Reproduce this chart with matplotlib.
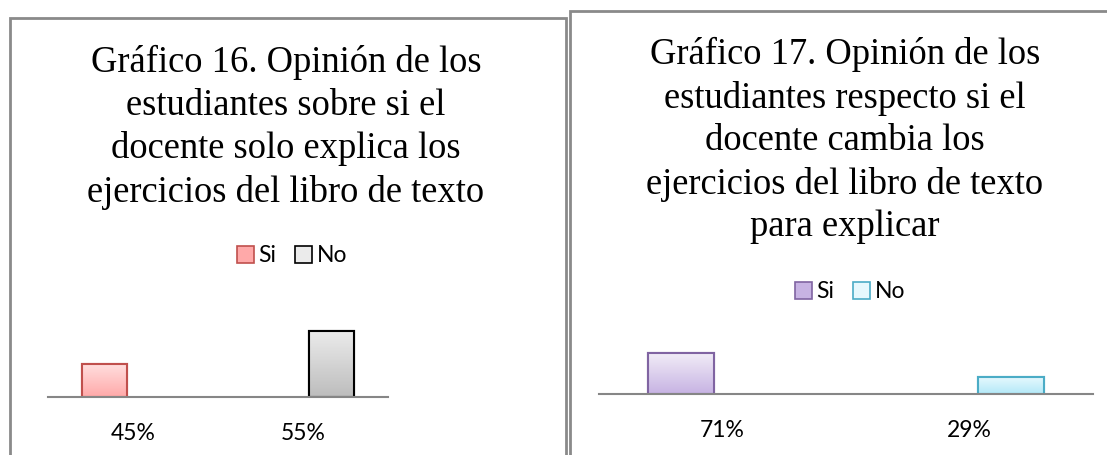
import numpy as np
import matplotlib
matplotlib.use("Agg")
import matplotlib.pyplot as plt
from matplotlib.colors import LinearSegmentedColormap
from matplotlib.patches import Rectangle

# ==========================
# DATA
# ==========================
title_16 = "Gráfico 16. Opinión de los\nestudiantes sobre si el\ndocente solo explica los\nejercicios del libro de texto"
title_17 = "Gráfico 17. Opinión de los\nestudiantes respecto si el\ndocente cambia los\nejercicios del libro de texto\npara explicar"

series = ["Si", "No"]
labels_16 = ["45%", "55%"]
values_16 = [45, 55]
labels_17 = ["71%", "29%"]
values_17 = [71, 29]

# ==========================
# STYLE
# ==========================
W, H = 1107, 455
SERIF = "Liberation Serif"
SANS = "Lato"

colors_16 = [("#c0504d", "#ffdede", "#ffa9a9"), ("#000000", "#ebebeb", "#bdbdbd")]
colors_17 = [("#8064a2", "#f1ecf7", "#c7b3e3"), ("#4bacc6", "#e6f8fd", "#b3e9f8")]

fig = plt.figure(figsize=(W / 100, H / 100), dpi=100)
fig.patch.set_facecolor("white")


def px(x0, y0, x1, y1):
    # pixel box (top-left origin) -> figure fraction rect
    return [x0 / W, 1 - y1 / H, (x1 - x0) / W, (y1 - y0) / H]


# panel borders
for (x0, y0, x1) in [(10, 18, 566), (570, 11, 1110)]:
    fig.add_artist(Rectangle((x0 / W, -0.1), (x1 - x0) / W, 1.1 - y0 / H,
                             transform=fig.transFigure, fill=False,
                             edgecolor="#8a8a8a", linewidth=2))


def draw_chart(rect, values, labels, colors, ylim, title, title_xy, legend_xy):
    ax = fig.add_axes(rect)
    offsets = [-0.168, 0.168]
    handles = []
    for i, (name, val) in enumerate(zip(series, values)):
        edge, top, bottom = colors[i]
        bars = ax.bar(i + offsets[i], val, width=0.265, facecolor=bottom,
                      edgecolor=edge, linewidth=1.5, label=name, zorder=2)
        bar = bars[0]
        cmap = LinearSegmentedColormap.from_list("g", [top, bottom])
        grad = np.linspace(0, 1, 64).reshape(-1, 1)
        x0 = bar.get_x()
        im = ax.imshow(grad, cmap=cmap, aspect="auto", zorder=2.5, origin="upper",
                       extent=[x0, x0 + bar.get_width(), ylim[0], val])
        im.set_clip_path(bar)
        ax.add_patch(Rectangle((x0, ylim[0]), bar.get_width(), val - ylim[0],
                               fill=False, edgecolor=edge, linewidth=1.5, zorder=3))
        handles.append(Rectangle((0, 0), 1, 1, facecolor=(top if i else bottom),
                                 edgecolor=edge, linewidth=1.2))
    ax.set_xlim(-0.5, 1.5)
    ax.set_ylim(*ylim)
    ax.set_xticks([0, 1])
    ax.set_xticklabels(labels, fontsize=16.5, family=SANS)
    ax.tick_params(axis="x", length=0, pad=19)
    ax.set_yticks([])
    for s in ["top", "left", "right"]:
        ax.spines[s].set_visible(False)
    ax.spines["bottom"].set_color("#868686")
    ax.spines["bottom"].set_linewidth(1.5)
    ax.spines["bottom"].set_zorder(4)
    ax.patch.set_alpha(0)

    fig.text(title_xy[0] / W, 1 - title_xy[1] / H, title, ha="center", va="top",
             fontsize=26.3, family=SERIF, linespacing=1.31)
    fig.legend(handles, series, loc="center", ncol=2, frameon=False,
               bbox_to_anchor=(legend_xy[0] / W, 1 - legend_xy[1] / H),
               prop={"family": SANS, "size": 16.5}, handlelength=0.75,
               handleheight=0.75, handletextpad=0.2, columnspacing=0.8)
    return ax


draw_chart(px(48, 315, 388, 397), values_16, labels_16, colors_16, (35, 60),
           title_16, (286, 45), (292, 256))
draw_chart(px(599, 348, 1093, 394), values_17, labels_17, colors_17, (0, 80),
           title_17, (845, 37), (850, 292))

fig.savefig("out.png", dpi=100, facecolor="white")
